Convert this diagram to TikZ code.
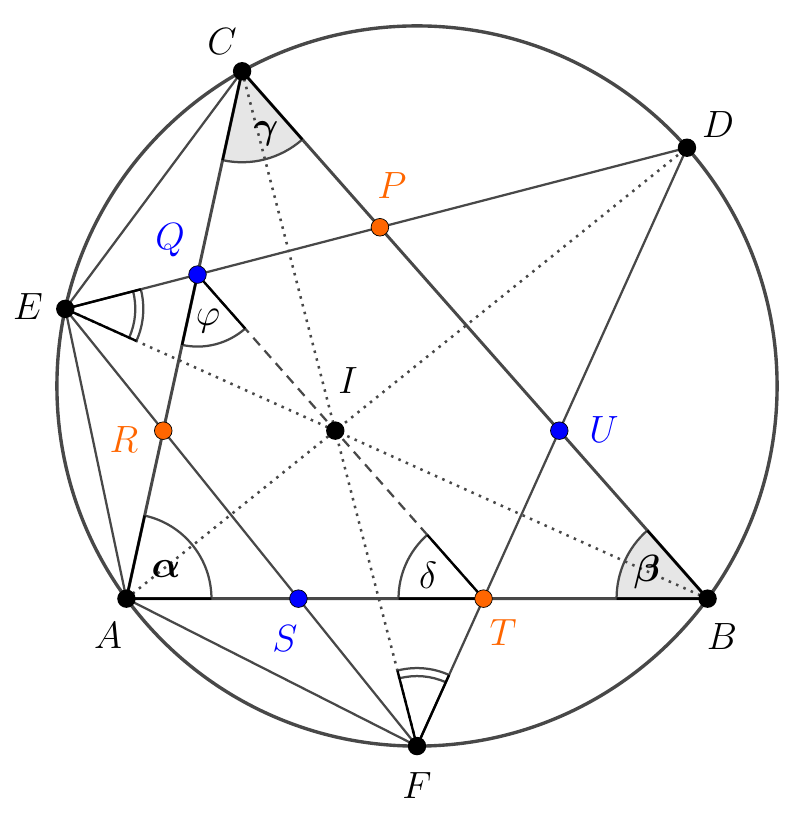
\RequirePackage{fix-cm}
\documentclass[tikz,border=0pt]{standalone}
\usepackage{amsmath}
\usetikzlibrary{calc,angles}
\definecolor{lg}{RGB}{72,72,72}
\definecolor{orng}{RGB}{255,102,0}
\definecolor{blu}{RGB}{0,0,255}
\definecolor{sfill}{RGB}{230,230,230}
\begin{document}
\begin{tikzpicture}[x=0.025cm,y=0.025cm,
  thinline/.style={draw=lg, line width=1.6pt},
  thickline/.style={draw=lg, line width=2.1pt, line join=round},
  circline/.style={draw=lg, line width=2.4pt},
  dotline/.style={draw=lg, line width=1.8pt, dash pattern=on 1.8pt off 3.9pt},
  dashline/.style={draw=lg, line width=1.6pt, dash pattern=on 7pt off 5pt},
  sedge/.style={draw=black, line width=1.7pt},
  arcline/.style={draw=lg, line width=1.6pt},
  bpt/.style={circle, fill=black, inner sep=0pt, minimum size=0.46cm},
  opt/.style={circle, fill=orng, draw=black, line width=0.5pt, inner sep=0pt, minimum size=0.44cm},
  upt/.style={circle, fill=blu, draw=black, line width=0.5pt, inner sep=0pt, minimum size=0.44cm},
  lbl/.style={font=\fontsize{27}{32}\selectfont, inner sep=0pt}
]
\useasboundingbox (0,0) rectangle (800,821);
% geometry
\coordinate (O) at (417,435);
\coordinate (A) at ($(O)+(216.2:9cm)$);
\coordinate (B) at ($(O)+(323.8:9cm)$);
\coordinate (C) at ($(O)+(119.06:9cm)$);
\coordinate (D) at ($(O)+(41.43:9cm)$);
\coordinate (E) at ($(O)+(167.63:9cm)$);
\coordinate (F) at ($(O)+(270:9cm)$);
\coordinate (I) at (intersection of A--D and C--F);
\coordinate (Q) at (intersection of A--C and E--D);
\coordinate (P) at (intersection of B--C and E--D);
\coordinate (R) at (intersection of A--C and E--F);
\coordinate (S) at (intersection of A--B and E--F);
\coordinate (T) at (intersection of A--B and D--F);
\coordinate (U) at (intersection of B--C and D--F);
% shaded sectors
\pic[fill=sfill, angle radius=2.275cm] {angle=C--B--A};
\pic[fill=sfill, angle radius=2.275cm] {angle=A--C--B};
% circle
\draw[circline] (O) circle[radius=9cm];
% thin lines
\draw[thinline] (E) -- (C);
\draw[thinline] (E) -- (D);
\draw[thinline] (E) -- (A);
\draw[thinline] (E) -- (F);
\draw[thinline] (A) -- (F);
\draw[thinline] (D) -- (F);
% dotted and dashed
\draw[dotline] (A) -- (D);
\draw[dotline] (B) -- (E);
\draw[dotline] (C) -- (F);
\draw[dashline] (Q) -- (T);
% triangle
\draw[thickline] (A) -- (B) -- (C) -- cycle;
% angle arcs
\pic[arcline, angle radius=2.125cm] {angle=B--A--C};
\pic[arcline, angle radius=2.275cm] {angle=C--B--A};
\pic[arcline, angle radius=2.275cm] {angle=A--C--B};
\pic[arcline, angle radius=2.125cm] {angle=Q--T--A};
\pic[arcline, angle radius=1.8cm] {angle=A--Q--T};
\pic[arcline, angle radius=1.75cm] {angle=B--E--D};
\pic[arcline, angle radius=1.95cm] {angle=B--E--D};
\pic[arcline, angle radius=1.75cm] {angle=D--F--C};
\pic[arcline, angle radius=1.95cm] {angle=D--F--C};
% sector edges
\draw[sedge] ($(A)!2.125cm!(B)$) -- (A) -- ($(A)!2.125cm!(C)$);
\draw[sedge] ($(B)!2.275cm!(A)$) -- (B) -- ($(B)!2.275cm!(C)$);
\draw[sedge] ($(C)!2.275cm!(A)$) -- (C) -- ($(C)!2.275cm!(B)$);
\draw[sedge] ($(T)!2.125cm!(Q)$) -- (T) -- ($(T)!2.125cm!(A)$);
\draw[sedge] ($(Q)!1.8cm!(A)$) -- (Q) -- ($(Q)!1.8cm!(T)$);
\draw[sedge] ($(E)!1.95cm!(B)$) -- (E) -- ($(E)!1.95cm!(D)$);
\draw[sedge] ($(F)!1.95cm!(D)$) -- (F) -- ($(F)!1.95cm!(C)$);
% points
\node[bpt] (pA) at (A) {};
\node[bpt] (pB) at (B) {};
\node[bpt] (pC) at (C) {};
\node[bpt] (pD) at (D) {};
\node[bpt] (pE) at (E) {};
\node[bpt] (pF) at (F) {};
\node[bpt] (pI) at (I) {};
\node[opt] (pP) at (P) {};
\node[opt] (pR) at (R) {};
\node[opt] (pT) at (T) {};
\node[upt] (pQ) at (Q) {};
\node[upt] (pS) at (S) {};
\node[upt] (pU) at (U) {};
% labels
\node[lbl] (lC) at (222,779) {$C$};
\node[lbl] (lD) at (718,696) {$D$};
\node[lbl] (lE) at (28,514) {$E$};
\node[lbl] (lA) at (108,185) {$A$};
\node[lbl] (lB) at (722,184) {$B$};
\node[lbl] (lF) at (417,35) {$F$};
\node[lbl] (lI) at (348,440) {$I$};
\node[lbl, text=orng] (lP) at (392,635) {$P$};
\node[lbl, text=blu] (lQ) at (170,581) {$Q$};
\node[lbl, text=orng] (lR) at (124,381) {$R$};
\node[lbl, text=blu] (lS) at (285,182) {$S$};
\node[lbl, text=orng] (lT) at (503,188) {$T$};
\node[lbl, text=blu] (lU) at (604,391) {$U$};
\node[lbl] (la) at (166,252) {$\boldsymbol{\alpha}$};
\node[lbl] (lb) at (647,249) {$\boldsymbol{\beta}$};
\node[lbl] (lg) at (266,687) {$\boldsymbol{\gamma}$};
\node[lbl] (ld) at (428,246) {$\delta$};
\node[lbl] (lf) at (208,500) {$\varphi$};
\end{tikzpicture}
\end{document}
